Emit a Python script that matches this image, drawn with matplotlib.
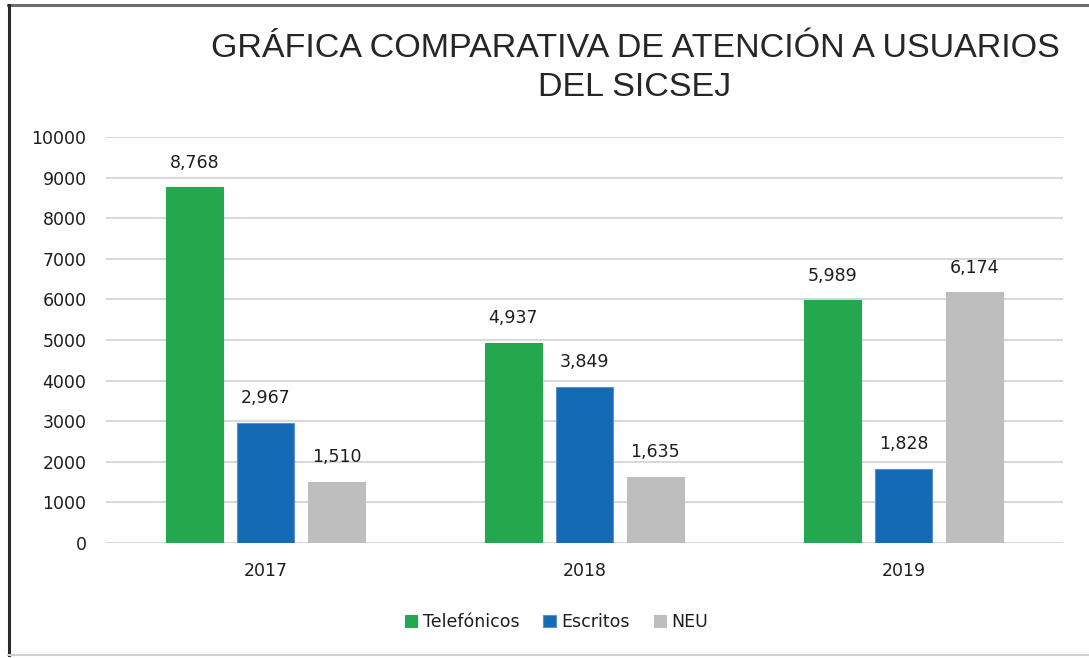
import matplotlib
matplotlib.use("Agg")
import matplotlib.pyplot as plt
import numpy as np
from matplotlib.lines import Line2D

plt.rcParams['font.family'] = ['Liberation Sans', 'DejaVu Sans']

years = ["2017", "2018", "2019"]
series_names = ["Telefónicos", "Escritos", "NEU"]
telefonicos = [8768, 4937, 5989]
escritos = [2967, 3849, 1828]
neu = [1510, 1635, 6174]
colors = ["#23A84F", "#156AB5", "#BEBEBE"]
yticks = [0, 1000, 2000, 3000, 4000, 5000, 6000, 7000, 8000, 9000, 10000]

small_font = ['DejaVu Sans']
txt_color = "#1E1E1E"

fig = plt.figure(figsize=(10.89, 6.58), dpi=100)
ax = fig.add_axes([0.0973, 0.1748, 0.8787, 0.617])

x = np.arange(len(years))
width = 0.179
step = 0.2226
all_series = [telefonicos, escritos, neu]
for i, (vals, name, c) in enumerate(zip(all_series, series_names, colors)):
    ec = "#5B8FD0" if i == 1 else c
    bars = ax.bar(x + (i - 1) * step, vals, width, color=c, label=name,
                  edgecolor=ec, linewidth=0.8, zorder=3)
    for b, v in zip(bars, vals):
        ax.annotate(f"{v:,}", (b.get_x() + b.get_width() / 2, v),
                    xytext=(0, 11), textcoords="offset points",
                    ha="center", va="bottom", fontsize=12.5, color=txt_color,
                    family=small_font)

ax.set_xlim(-0.5, 2.5)
ax.set_ylim(0, 10000)
ax.set_yticks(yticks)
ax.set_yticklabels([str(t) for t in yticks], fontsize=12.5, color=txt_color,
                   family=small_font)
ax.set_xticks(x)
ax.set_xticklabels(years, fontsize=12.5, color=txt_color, family=small_font)
ax.tick_params(axis='both', length=0)
ax.tick_params(axis='y', pad=14)
ax.tick_params(axis='x', pad=14)
ax.grid(axis='y', color="#D9D9D9", linewidth=1.5, zorder=0)
for s in ax.spines.values():
    s.set_visible(False)

fig.text(0.583, 0.897, "GRÁFICA COMPARATIVA DE ATENCIÓN A USUARIOS\nDEL SICSEJ",
         ha="center", va="center", fontsize=24.5, color="#262626", linespacing=1.32)

fig.legend(loc="center", bbox_to_anchor=(0.511, 0.055), ncol=3, frameon=False,
           prop={'family': small_font, 'size': 12.5},
           handlelength=0.7, handleheight=0.7, handletextpad=0.3,
           columnspacing=1.4)
for t in fig.legends[0].get_texts():
    t.set_color(txt_color)

fig.add_artist(Line2D([0.007, 1.0], [0.992, 0.992], color="#6E6E6E", linewidth=2.2))
fig.add_artist(Line2D([0.008, 0.008], [0.005, 0.993], color="#2A2A2A", linewidth=2.2))
fig.add_artist(Line2D([0.007, 1.0], [0.004, 0.004], color="#D0D0D0", linewidth=1.5))

fig.savefig("out.png", dpi=100)
